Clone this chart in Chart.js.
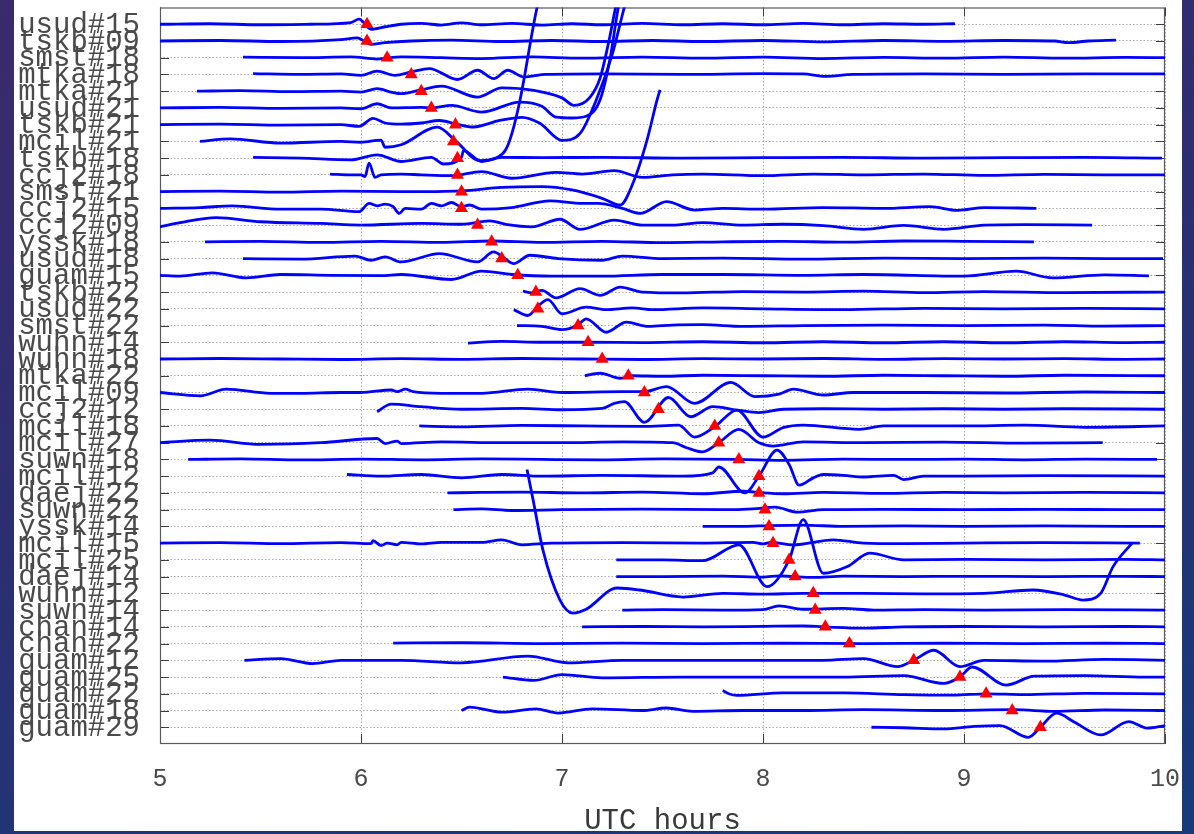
<!DOCTYPE html>
<html><head><meta charset="utf-8">
<script src="https://cdn.jsdelivr.net/npm/chart.js@4/dist/chart.umd.min.js"></script>
<style>
html,body{margin:0;padding:0;width:1194px;height:834px;overflow:hidden;
background:linear-gradient(165deg,#3b2a6d 0%,#2c2e70 45%,#173a7b 100%);}
#wrap{position:absolute;left:0;top:0;width:1194px;height:834px;}
</style></head><body>
<div id="wrap"><canvas id="c" width="1194" height="834"></canvas></div>
<script>
// ---------- data (hours UTC, amplitude in tenths of trace spacing, + = up) ----------
const hourTicks = [5, 6, 7, 8, 9, 10];
const stationLabels = ["usud#15","tskb#09","smst#18","mtka#18","mtka#21","usud#21","tskb#21","mcil#21","tskb#18","ccj2#18","smst#21","ccj2#15","ccj2#09","yssk#18","usud#18","guam#15","tskb#22","usud#22","smst#22","wuhn#14","wuhn#18","mtka#22","mcil#09","ccj2#12","mcil#18","mcil#27","suwn#18","mcil#12","daej#22","suwn#22","yssk#14","mcil#15","mcil#25","daej#14","wuhn#12","suwn#14","chan#14","chan#22","guam#12","guam#25","guam#22","guam#18","guam#29"];
const pickTimes = [6.03,6.03,6.13,6.25,6.30,6.35,6.47,6.46,6.48,6.48,6.50,6.50,6.58,6.65,6.70,6.78,6.87,6.88,7.08,7.13,7.20,7.33,7.41,7.48,7.76,7.78,7.88,7.98,7.98,8.01,8.03,8.05,8.13,8.16,8.25,8.26,8.31,8.43,8.75,8.98,9.11,9.24,9.38];

const tr_usud_15 = [[5.0,0],[5.25,0.3],[5.5,-0.3],[5.75,0],[5.95,1],[5.99,3],[6.05,-3],[6.12,-1.5],[6.2,0],[6.3,0.5],[6.4,-0.5],[6.5,0.8],[6.6,-0.3],[6.75,0.5],[6.9,-0.5],[7.05,0.3],[7.2,-0.3],[7.4,0.5],[7.6,-0.3],[7.8,0.3],[8.0,-0.3],[8.2,0.5],[8.4,-0.3],[8.6,0.3],[8.8,0],[8.955,0.3]];
const tr_tskb_09 = [[5.0,0],[5.3,0.3],[5.6,-0.3],[5.9,0.8],[5.98,1.8],[6.05,-2],[6.12,-1],[6.25,0],[6.45,0.5],[6.7,-0.3],[6.95,0.3],[7.2,-0.3],[7.45,0.3],[7.7,-0.3],[8.0,0.3],[8.3,-0.5],[8.6,0.3],[8.9,-0.2],[9.2,0.3],[9.45,0],[9.52,-1],[9.62,0],[9.756,0.5]];
const tr_smst_18 = [[5.413,0.3],[5.7,0],[5.95,0.5],[6.08,-0.8],[6.2,0.5],[6.4,0],[6.6,-0.5],[6.85,0.5],[7.1,-0.3],[7.4,0.3],[7.7,-0.3],[8.0,0.3],[8.3,-0.5],[8.6,0.2],[8.9,-0.3],[9.2,0.3],[9.5,-0.3],[9.8,0.2],[10,0]];
const tr_mtka_18 = [[5.463,0.5],[5.7,0],[5.9,0.3],[6.0,-0.5],[6.08,2],[6.17,-0.5],[6.25,1.5],[6.34,3.5],[6.48,-3],[6.58,2.5],[6.66,-2.5],[6.73,2.5],[6.81,-1.5],[6.92,0],[7.2,0.3],[7.6,0],[8.0,0.5],[8.2,0.3],[8.31,-1.2],[8.45,0],[8.8,0.3],[9.2,0],[9.6,0.3],[10,0.3]];
const tr_mtka_21 = [[5.184,0],[5.4,0.3],[5.65,-0.3],[5.9,0],[6.0,-0.5],[6.08,1.5],[6.15,-0.5],[6.2,-1.5],[6.3,0.8],[6.4,3],[6.58,-3.5],[6.7,2],[6.86,0.5],[7.0,-4],[7.06,-8.5],[7.14,-3.5],[7.19,8],[7.23,28],[7.27,52],[7.29,62]];
const tr_usud_21 = [[5.0,0],[5.3,0.3],[5.6,-0.3],[5.9,0],[6.0,-0.5],[6.08,2.5],[6.15,0],[6.3,0.3],[6.35,0],[6.45,1.5],[6.6,-2.5],[6.79,3.5],[6.9,1],[6.97,-5.5],[7.05,-6],[7.12,-5],[7.19,5],[7.24,30],[7.28,60],[7.3,70]];
const tr_tskb_21 = [[5.0,0],[5.3,0.3],[5.6,-0.3],[5.9,0],[5.99,-1],[6.06,3.8],[6.12,1],[6.2,0.3],[6.3,1],[6.39,2.5],[6.47,0.5],[6.56,-1.4],[6.69,2.5],[6.8,4.4],[6.89,0.8],[7.0,-9.4],[7.09,-5.2],[7.17,14.6],[7.25,42],[7.31,70],[7.33,78]];
const tr_mcil_21 = [[5.199,0],[5.35,1.5],[5.6,-1],[5.9,0],[6.0,-0.5],[6.1,0.8],[6.12,-3.5],[6.2,-2],[6.38,8.5],[6.47,0.5],[6.59,-11.5],[6.677,-9.6],[6.72,-5],[6.751,4.8],[6.791,24.6],[6.876,80],[6.9,90]];
const tr_tskb_18 = [[5.463,0.5],[5.7,0],[5.95,-1],[6.08,2],[6.2,-2],[6.35,0.5],[6.41,-3.5],[6.5,0.5],[6.51,4.5],[6.6,-2],[6.7,0.5],[6.9,0.3],[7.2,0.5],[7.6,0],[8.0,0.3],[8.4,0.5],[8.8,0],[9.2,0.3],[9.6,0.5],[9.985,0]];
const tr_ccj2_18 = [[5.846,0.5],[5.95,0],[6.0,0],[6.02,-1],[6.04,7],[6.07,-1.5],[6.1,0],[6.2,0.5],[6.3,0],[6.45,-0.5],[6.6,2],[6.75,-2],[6.97,1.5],[7.1,0.5],[7.26,2.5],[7.4,-1.5],[7.55,0],[7.7,0.5],[8.0,-0.5],[8.25,0.5],[8.5,0],[8.8,0.5],[9.1,-0.3],[9.4,0.3],[9.7,0],[10,0]];
const tr_smst_21 = [[5.0,0],[5.3,0.3],[5.6,-0.3],[5.9,0.3],[6.2,0],[6.5,0.5],[6.7,2.5],[6.9,3],[7.05,1],[7.2,-4],[7.289,-8],[7.353,5],[7.423,30.8],[7.473,54.8],[7.488,60.8]];
const tr_ccj2_15 = [[5.0,0],[5.2,0.5],[5.36,1.5],[5.6,-0.5],[5.8,-0.5],[5.99,-2],[6.04,3],[6.08,1.5],[6.12,2.5],[6.16,1],[6.19,-3],[6.22,0],[6.3,-0.5],[6.35,3],[6.4,1.5],[6.45,3.5],[6.5,1],[6.54,2],[6.6,-0.5],[6.75,0.5],[6.94,4.5],[7.1,3],[7.18,3],[7.3,0],[7.39,-3],[7.52,4],[7.66,-1],[7.8,0],[8.0,-0.5],[8.3,0.5],[8.6,0],[8.83,1],[8.97,-1.2],[9.1,0.5],[9.36,0]];
const tr_ccj2_09 = [[5.0,-1],[5.1,1.5],[5.28,4.5],[5.5,2],[5.8,1],[6.0,0],[6.3,1],[6.5,0.5],[6.64,2.5],[6.72,0.5],[6.85,-1],[6.99,3.5],[7.09,-2.5],[7.26,3],[7.4,0],[7.55,0],[7.7,1.5],[7.9,0],[8.1,0.5],[8.3,-0.3],[8.5,-2.5],[8.7,-0.2],[8.9,-2.5],[9.1,0],[9.3,0.3],[9.637,0]];
const tr_yssk_18 = [[5.224,0],[5.5,0.3],[5.8,-0.3],[6.1,0.3],[6.4,-0.3],[6.65,0.5],[6.9,-0.3],[7.2,0.3],[7.5,-0.5],[7.8,0],[8.1,0.3],[8.4,-0.2],[8.7,0.5],[9.0,0.3],[9.348,0]];
const tr_usud_18 = [[5.413,0],[5.7,-0.3],[5.97,1.5],[6.05,-1],[6.12,1],[6.2,-2],[6.39,3],[6.58,-2],[6.66,4],[6.71,0.5],[6.76,-3],[6.84,2],[6.98,0],[7.2,-1],[7.3,1.5],[7.5,0],[7.8,0.3],[8.2,-0.3],[8.6,0.3],[9.0,0],[9.4,0.3],[9.7,0],[9.99,0]];
const tr_guam_15 = [[5.0,0],[5.1,-0.5],[5.26,1.5],[5.43,-1.5],[5.6,0.5],[5.85,0],[6.1,-0.2],[6.2,0.5],[6.45,-2.5],[6.6,2.5],[6.75,0.5],[6.95,-0.5],[7.2,-0.5],[7.5,0.5],[7.8,0.5],[8.2,0],[8.5,0.5],[9.0,-0.5],[9.26,2.5],[9.44,-1.5],[9.7,0.3],[9.92,-0.3]];
const tr_tskb_22 = [[6.806,0.5],[6.85,-0.5],[6.9,1],[6.97,-3.5],[7.09,2],[7.19,-2],[7.29,3],[7.4,0],[7.6,-0.5],[7.9,0.3],[8.2,0],[8.5,0.5],[8.8,-0.3],[9.1,0.3],[9.5,-0.3],[10,0]];
const tr_usud_22 = [[6.76,-0.5],[6.83,-4],[6.88,1.5],[6.93,5.5],[7.0,-3],[7.12,1],[7.22,-0.5],[7.35,0.5],[7.45,-0.5],[7.7,0.5],[8.0,0],[8.4,-0.5],[8.8,0.3],[9.2,0],[9.6,0.3],[10,0]];
const tr_smst_22 = [[6.776,0],[6.9,-0.5],[7.0,-2.5],[7.08,0.5],[7.12,4],[7.22,-4],[7.32,2],[7.43,-0.5],[7.55,0.3],[7.7,0.5],[7.9,-0.5],[8.2,0],[8.6,0.3],[9.0,0],[9.4,0.3],[9.7,-0.3],[10,0]];
const tr_wuhn_14 = [[6.532,-0.5],[6.7,0.5],[6.9,0],[7.13,0],[7.4,-0.2],[7.7,0.3],[8.0,-0.3],[8.3,0.3],[8.6,-0.3],[8.9,0.3],[9.2,-0.3],[9.5,0.3],[9.8,-0.2],[10,0]];
const tr_wuhn_18 = [[5.0,0],[5.3,0.3],[5.6,0],[5.9,-0.3],[6.2,0.2],[6.5,-0.2],[6.8,0.3],[7.1,0],[7.4,-0.3],[7.7,0.2],[8.0,0],[8.3,0.3],[8.6,-0.2],[8.9,0.2],[9.2,0],[9.5,0.2],[9.8,-0.2],[10,0]];
const tr_mtka_22 = [[7.114,0],[7.19,1.5],[7.29,-1.5],[7.35,0],[7.5,-0.3],[7.7,0.3],[8.0,0],[8.3,-0.3],[8.6,0.3],[8.9,0],[9.2,-0.3],[9.5,0.3],[10,0]];
const tr_mcil_09 = [[5.0,0],[5.2,-2],[5.33,2],[5.55,-0.5],[5.7,-0.5],[5.9,0],[6.0,0],[6.15,1.5],[6.18,0.5],[6.22,2],[6.26,0.5],[6.4,-0.5],[6.6,-0.5],[6.83,2],[7.0,0],[7.3,0.5],[7.41,0.5],[7.52,3.5],[7.66,-6.5],[7.84,6],[7.96,-2.5],[8.08,-1],[8.15,2],[8.3,-1.5],[8.45,0],[8.8,0],[9.2,-0.3],[9.6,0.3],[10,0]];
const tr_ccj2_12 = [[6.08,-1.5],[6.15,3],[6.3,1.5],[6.5,0],[6.8,0.5],[7.0,-0.3],[7.2,0.5],[7.26,3.5],[7.31,4.5],[7.41,-7.8],[7.53,7],[7.64,-4.5],[7.75,1.5],[7.87,-0.5],[7.98,-2],[8.1,0],[8.3,0.3],[8.6,0],[8.9,0.3],[9.2,0],[9.5,0.3],[10,0]];
const tr_mcil_18 = [[6.29,0],[6.5,-0.5],[6.8,0.3],[7.1,0],[7.4,-0.3],[7.58,0.5],[7.66,-6.7],[7.76,-0.5],[7.87,9.5],[8.0,-6.7],[8.1,-1],[8.2,0.5],[8.48,-2],[8.6,0],[9.0,0],[9.3,0.5],[9.6,-0.8],[10,0]];
const tr_mcil_27 = [[5.0,0],[5.25,1.5],[5.5,-1],[5.8,0],[6.08,2.5],[6.12,-0.5],[6.18,1],[6.2,-0.5],[6.4,0.5],[6.7,0],[7.0,0],[7.3,0.5],[7.55,0],[7.62,-3],[7.7,-5.5],[7.78,0],[7.88,8],[7.98,0],[8.05,-2],[8.2,0.5],[8.5,0],[8.9,0.3],[9.3,-0.3],[9.69,0]];
const tr_suwn_18 = [[5.14,0],[5.4,0.3],[5.7,-0.3],[6.0,0.2],[6.3,-0.2],[6.6,0.3],[6.9,0],[7.2,-0.2],[7.5,0.3],[7.88,0],[8.1,-0.5],[8.4,0.2],[8.7,0],[9.0,0.2],[9.3,-0.2],[9.6,0.2],[9.96,0]];
const tr_mcil_12 = [[5.93,1],[6.1,0],[6.3,1],[6.5,-1],[6.7,1],[6.9,0],[7.2,0.5],[7.6,0],[7.75,2],[7.78,5.5],[7.91,-10],[7.98,0],[8.07,15.6],[8.13,7],[8.18,-5.4],[8.25,-1],[8.3,1],[8.4,0.5],[8.5,-0.5],[8.65,0.5],[8.7,-2],[8.8,0],[9.0,0],[9.4,0.3],[10,0]];
const tr_daej_22 = [[6.43,0],[6.6,0.3],[6.8,0.5],[7.1,0],[7.4,0.5],[7.7,-0.5],[7.9,1],[8.0,0],[8.1,-0.5],[8.3,0.3],[8.6,-0.3],[8.9,0.3],[9.2,0],[9.6,0.3],[10,0]];
const tr_suwn_22 = [[6.46,0],[6.6,0.5],[6.75,-0.5],[7.0,0],[7.4,0.3],[7.8,0],[7.95,0.5],[8.06,1.5],[8.17,-1.5],[8.3,0],[8.6,0.2],[9.0,0],[9.4,0.2],[9.8,0],[10,0]];
const tr_yssk_14 = [[7.70,0],[7.9,0],[8.03,0.5],[8.2,0.8],[8.4,0],[8.7,0.3],[9.0,0],[9.4,0.3],[9.8,0],[10,0]];
const tr_mcil_15 = [[5.0,0],[5.3,0.3],[5.6,-0.3],[5.9,0.3],[6.05,-0.3],[6.06,1.5],[6.1,-1.5],[6.13,0],[6.18,-1],[6.2,0.5],[6.3,-0.5],[6.4,0.5],[6.6,0.5],[6.7,2],[6.8,-1],[6.95,0],[7.3,0.3],[7.7,0],[7.95,0.5],[8.0,-0.5],[8.04,0.5],[8.15,-1],[8.35,2],[8.5,0],[8.7,-0.3],[9.0,0],[9.4,0.3],[9.875,0]];
const tr_mcil_25 = [[7.27,0],[7.5,0],[7.7,-0.5],[7.88,9],[8.02,-16],[8.13,0],[8.2,24],[8.3,-8],[8.42,-4],[8.53,4],[8.7,0],[9.0,0.3],[9.4,0],[9.8,0.3],[10,0]];
const tr_daej_14 = [[7.27,0],[7.5,0],[7.8,0.3],[8.0,-0.3],[8.08,0.5],[8.15,0],[8.25,-0.5],[8.4,0.3],[8.7,0],[9.0,0.2],[9.4,0],[9.8,0.2],[10,0]];
const tr_wuhn_12 = [[6.826,74],[6.856,56],[6.905,26],[6.99,-4],[7.055,-11.8],[7.12,-9.5],[7.274,3.2],[7.388,2],[7.602,-2.2],[7.8,0],[8.0,-0.5],[8.2,0],[8.5,0],[8.8,-0.3],[9.1,0],[9.343,2],[9.5,-1],[9.592,-4],[9.68,0],[9.741,15.8],[9.836,30]];
const tr_suwn_14 = [[7.30,0],[7.5,0.3],[7.8,0],[8.0,0.3],[8.08,2.5],[8.2,0.5],[8.4,1],[8.55,0],[8.8,0.3],[9.1,0],[9.5,0.3],[10,0]];
const tr_chan_14 = [[7.10,0],[7.4,0.2],[7.7,0],[8.0,0.3],[8.2,0.5],[8.3,0],[8.5,-0.8],[8.7,0],[9.0,0.2],[9.4,0],[9.8,0.2],[10,0]];
const tr_chan_22 = [[6.16,0.3],[6.5,0.5],[6.9,0],[7.3,0.3],[7.7,0],[8.1,0.2],[8.5,0],[8.9,0.2],[9.3,0],[9.7,0.2],[10,0]];
const tr_guam_12 = [[5.42,0],[5.6,1],[5.76,-2],[5.9,0],[6.2,0],[6.5,-1.5],[6.83,2.5],[7.03,-1.5],[7.3,0],[7.7,0],[8.0,0],[8.3,0],[8.5,1],[8.67,-3.8],[8.75,0],[8.85,6],[8.98,-3.8],[9.1,0],[9.4,-0.5],[9.7,0.5],[10,0]];
const tr_guam_25 = [[6.706,0],[6.86,-2],[7.0,1.5],[7.2,-0.5],[7.6,0],[8.0,0],[8.4,0],[8.7,0.8],[8.9,-3.8],[8.98,0],[9.04,6],[9.21,-4.8],[9.35,0.5],[9.6,0.8],[9.9,0],[10,0]];
const tr_guam_22 = [[7.80,2],[7.83,0],[7.87,-1],[8.1,0.5],[8.4,0.5],[8.7,-0.5],[8.95,-0.8],[9.11,0],[9.3,-0.5],[9.6,0.3],[10,0]];
const tr_guam_18 = [[6.50,0],[6.54,2],[6.7,-1],[6.87,1],[6.98,-1.5],[7.15,1],[7.4,0],[7.52,1.5],[7.65,-0.5],[7.9,0],[8.2,0],[8.5,0.5],[8.9,0],[9.25,0.5],[9.45,-0.5],[9.7,0.3],[10,0]];
const tr_guam_29 = [[8.54,0],[8.7,-0.3],[8.9,-1],[9.05,0.5],[9.18,1],[9.32,-6],[9.38,0],[9.46,8.4],[9.55,3],[9.68,-4.6],[9.82,3.4],[9.91,-0.5],[10,1]];

const traceList = [tr_usud_15,tr_tskb_09,tr_smst_18,tr_mtka_18,tr_mtka_21,tr_usud_21,tr_tskb_21,tr_mcil_21,tr_tskb_18,tr_ccj2_18,tr_smst_21,tr_ccj2_15,tr_ccj2_09,tr_yssk_18,tr_usud_18,tr_guam_15,tr_tskb_22,tr_usud_22,tr_smst_22,tr_wuhn_14,tr_wuhn_18,tr_mtka_22,tr_mcil_09,tr_ccj2_12,tr_mcil_18,tr_mcil_27,tr_suwn_18,tr_mcil_12,tr_daej_22,tr_suwn_22,tr_yssk_14,tr_mcil_15,tr_mcil_25,tr_daej_14,tr_wuhn_12,tr_suwn_14,tr_chan_14,tr_chan_22,tr_guam_12,tr_guam_25,tr_guam_22,tr_guam_18,tr_guam_29];
const AMP_PER_ROW = 10;

// ---------- chart ----------
const MONO = '"Courier New", "Liberation Mono", monospace';

const datasets = [{
  type: 'scatter',
  label: 'picks',
  data: pickTimes.map((t, i) => ({x: t, y: i + 1})),
  pointStyle: 'triangle',
  pointRadius: 7.5,
  pointHoverRadius: 7.5,
  backgroundColor: '#ff0000',
  borderColor: '#ff0000',
  borderWidth: 0,
  order: 0,
  clip: false
}];
traceList.forEach((tr, i) => {
  datasets.push({
    type: 'line',
    label: stationLabels[i],
    data: tr.map(p => ({x: p[0], y: (i + 1) - p[1] / AMP_PER_ROW})),
    borderColor: '#0000ff',
    borderWidth: 2.8,
    pointRadius: 0,
    fill: false,
    cubicInterpolationMode: 'monotone',
    order: 1,
    clip: 0
  });
});

const panelPlugin = {
  id: 'panel',
  beforeDraw(chart) {
    const ctx = chart.ctx;
    ctx.save();
    ctx.fillStyle = '#ffffff';
    ctx.fillRect(14, 0, 1168, 831);
    ctx.restore();
  }
};
const framePlugin = {
  id: 'frame',
  beforeDatasetsDraw(chart) {
    const {ctx, chartArea: a, scales} = chart;
    ctx.save();
    ctx.strokeStyle = '#3c3c3c';
    ctx.lineWidth = 1;
    ctx.beginPath();
    scales.y.ticks.forEach(t => {
      const y = Math.round(scales.y.getPixelForValue(t.value)) + 0.5;
      ctx.moveTo(a.left, y); ctx.lineTo(a.left + 9, y);
      ctx.moveTo(a.right - 9, y); ctx.lineTo(a.right, y);
    });
    scales.x.ticks.forEach(t => {
      const x = Math.round(scales.x.getPixelForValue(t.value)) + 0.5;
      ctx.moveTo(x, a.bottom); ctx.lineTo(x, a.bottom - 10);
      ctx.moveTo(x, a.top); ctx.lineTo(x, a.top + 9);
    });
    ctx.stroke();
    ctx.strokeStyle = '#5a5a5a';
    ctx.lineWidth = 1.2;
    ctx.strokeRect(a.left + 0.5, a.top + 0.5, a.right - a.left - 1, a.bottom - a.top - 1);
    ctx.restore();
  }
};

new Chart(document.getElementById('c'), {
  type: 'line',
  data: {datasets},
  options: {
    responsive: false,
    devicePixelRatio: 1,
    animation: false,
    events: [],
    layout: {padding: {left: 14, right: 29, top: 7, bottom: 0}},
    plugins: {legend: {display: false}, tooltip: {enabled: false}},
    scales: {
      x: {
        type: 'linear',
        position: 'bottom',
        min: 5, max: 10,
        afterBuildTicks: s => { s.ticks = hourTicks.map(v => ({value: v})); },
        afterFit: s => { s.height = 90; s.paddingLeft = 0; s.paddingRight = 0; },
        grid: {color: '#a8a8a8', lineWidth: 1, drawTicks: false},
        border: {display: false, dash: [1.5, 2]},
        ticks: {color: '#4a4a4a', font: {family: MONO, size: 25}, padding: 20, maxRotation: 0, autoSkip: false},
        title: {display: true, text: 'UTC hours', color: '#3a3a3a', font: {family: MONO, size: 29, lineHeight: 0.9}, padding: {top: 0, bottom: 0}}
      },
      y: {
        type: 'linear',
        reverse: true,
        min: 0, max: 44,
        afterBuildTicks: s => { s.ticks = stationLabels.map((_, i) => ({value: i + 1})); },
        afterFit: s => { s.width = 146; s.paddingTop = 0; s.paddingBottom = 0; },
        grid: {color: '#a8a8a8', lineWidth: 1, drawTicks: false},
        border: {display: false, dash: [1.5, 2]},
        ticks: {
          autoSkip: false,
          color: '#4a4a4a',
          font: {family: MONO, size: 29},
          padding: 20,
          labelOffset: 1,
          callback: v => stationLabels[v - 1] || ''
        }
      }
    }
  },
  plugins: [panelPlugin, framePlugin]
});
</script></body></html>
